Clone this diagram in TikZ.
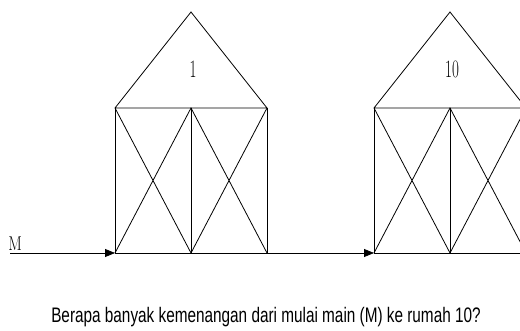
\documentclass[tikz,border=0pt]{standalone}
\usepackage{fontspec}
\newfontfamily\capfont{Liberation Sans}
\usetikzlibrary{arrows.meta,positioning}

\begin{document}
\begin{tikzpicture}[x=1pt,y=-1pt,line width=.8pt,
  step arrow/.style={-{Triangle[length=10pt,width=8pt]}}]
\useasboundingbox (0,0) rectangle (520,331);
\clip (0,0) rectangle (520,331);
% houses
\foreach \h/\x/\lab in {a/115/1,b/374/10} {
  \coordinate (\h bl) at (\x,253);
  \coordinate (\h bm) at (\x+76,253);
  \coordinate (\h br) at (\x+152,253);
  \coordinate (\h tl) at (\x,108);
  \coordinate (\h tm) at (\x+76,108);
  \coordinate (\h tr) at (\x+152,108);
  \coordinate (\h top) at (\x+76,12);
  \draw (\h tl) -- (\h top) -- (\h tr) -- (\h tl);
  \draw (\h tl) -- (\h bl) (\h tm) -- (\h bm) (\h tr) -- (\h br);
  \draw (\h tl) -- (\h bm) -- (\h tr) (\h bl) -- (\h tm) -- (\h br);
  \node[font=\fontsize{25}{25}\selectfont,xscale=.6,anchor=base] (\h num) at (\x+78,78) {\lab};
}
% start and path
\node[font=\fontsize{20}{20}\selectfont,xscale=.8,anchor=base west,inner sep=0pt] (m) at (8,251) {M};
\coordinate (start) at (10,253);
\coordinate (end) at (530,253);
\draw[step arrow] (start) -- (abl);
\draw[step arrow] (abl) -- (bbl);
\draw (bbl) -- (end);
\node[font=\capfont\fontsize{21}{21}\selectfont,xscale=.73,anchor=base] (q) at (266,323)
  {Berapa banyak kemenangan dari mulai main (M) ke rumah 10?};
\end{tikzpicture}
\end{document}
